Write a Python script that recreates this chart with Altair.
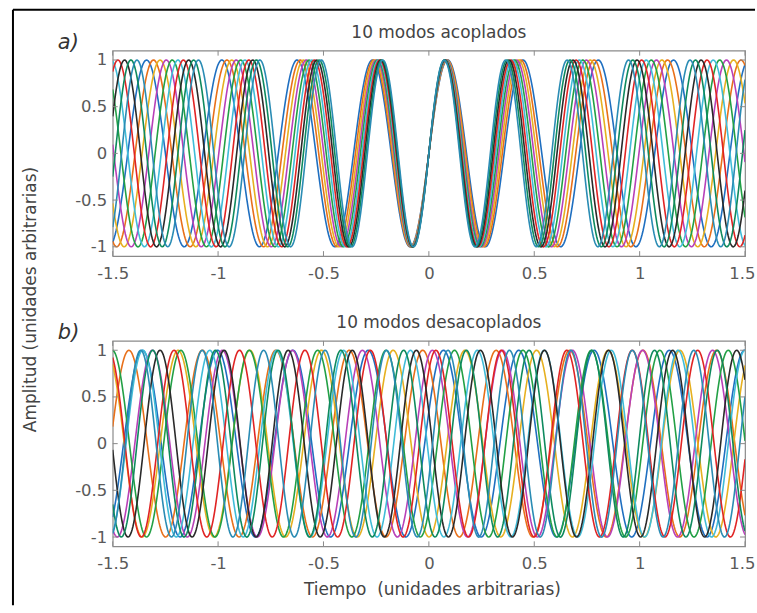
import altair as alt
import numpy as np
import pandas as pd

# ---- data -------------------------------------------------------------
modes = [1, 2, 3, 4, 5, 6, 7, 8, 9, 10]
# mode frequencies (cycles per time unit), read from the peak spacing
freqs = [2.80, 2.87, 2.94, 3.01, 3.08, 3.15, 3.22, 3.29, 3.36, 3.43]
# coupled modes: all phases equal (in phase at t = 0)
phases_a = [0.0, 0.0, 0.0, 0.0, 0.0, 0.0, 0.0, 0.0, 0.0, 0.0]
# uncoupled modes: arbitrary phases (radians)
phases_b = [0.35, 2.10, 4.70, 1.25, 5.50, 3.30, 0.90, 2.80, 4.10, 5.90]
colors = ["#1f6fc0", "#e8701a", "#e6b020", "#b840b8", "#22a045",
          "#40bcd8", "#e02424", "#2a2a2a", "#0e8a5e", "#2a8cb4"]
x_ticks = [-1.5, -1, -0.5, 0, 0.5, 1, 1.5]
y_ticks = [-1, -0.5, 0, 0.5, 1]
t_samples = np.linspace(-1.5, 1.5, 751)

titles = ["10 modos acoplados", "10 modos desacoplados"]
letters = ["a)", "b)"]
x_title = "Tiempo\u00a0\u00a0(unidades arbitrarias)"
y_title = "Amplitud (unidades arbitrarias)"


def build(phases):
    rows = []
    for m, f, p in zip(modes, freqs, phases):
        amp = np.sin(2 * np.pi * f * t_samples + p)
        rows.append(pd.DataFrame({"t": t_samples, "amp": amp, "mode": m}))
    return pd.concat(rows, ignore_index=True)


df_a = build(phases_a)
df_b = build(phases_b)

# ---- style ------------------------------------------------------------
FONT = "DejaVu Sans"
W, H = 634, 206
GRAY = "#8a8a8a"
LBL = "#5a5a5a"
TFS = 17   # title font size
LFS = 16.5 # tick label font size

x_scale = alt.Scale(domain=[-1.5, 1.5], nice=False, zero=False)
y_scale = alt.Scale(domain=[-1.1, 1.1], nice=False, zero=False)


def panel(df, title, letter, first):
    x_axis = alt.Axis(
        values=x_ticks, labelExpr="datum.value + ''", ticks=False, domain=False,
        grid=False, labelPadding=9, labelFontSize=LFS, labelFont=FONT,
        labelColor=LBL, labelFlush=False,
        labelAlign={"condition": {"test": "datum.value >= 1.5", "value": "right"}, "value": "center"},
        labelOffset={"condition": {"test": "datum.value >= 1.5", "value": 10}, "value": 0},
        title=None if first else x_title,
        titleFont=FONT, titleFontSize=TFS, titleFontWeight="normal", titleColor="#444",
        titleBaseline="top", titleY=35, titleX=W / 2 + 3,
    )
    y_axis = alt.Axis(
        values=y_ticks, labelExpr="datum.value + ''", ticks=False, domain=False,
        grid=False, labelPadding=6, labelFontSize=LFS, labelFont=FONT,
        labelColor=LBL,
        title=None if first else y_title,
        titleFont=FONT, titleFontSize=TFS, titleFontWeight="normal", titleColor="#444",
        titleAngle=-90, titleBaseline="middle", titleAlign="center",
        titleX=-82, titleY=-42,
    )

    lines = alt.Chart(df).mark_line(strokeWidth=1.6, clip=True).encode(
        x=alt.X("t:Q", scale=x_scale, axis=x_axis),
        y=alt.Y("amp:Q", scale=y_scale, axis=y_axis),
        color=alt.Color("mode:N", scale=alt.Scale(domain=modes, range=colors), legend=None),
    )

    xt = pd.DataFrame({"t": x_ticks})
    yt = pd.DataFrame({"amp": y_ticks})
    tick_x_bot = alt.Chart(xt).mark_rule(color=GRAY, strokeWidth=1).encode(
        x=alt.X("t:Q", scale=x_scale, axis=x_axis), y=alt.value(H), y2=alt.value(H - 5))
    tick_x_top = alt.Chart(xt).mark_rule(color=GRAY, strokeWidth=1).encode(
        x=alt.X("t:Q", scale=x_scale, axis=x_axis), y=alt.value(0), y2=alt.value(5))
    tick_y_left = alt.Chart(yt).mark_rule(color=GRAY, strokeWidth=1).encode(
        y=alt.Y("amp:Q", scale=y_scale, axis=y_axis), x=alt.value(0), x2=alt.value(5))
    tick_y_right = alt.Chart(yt).mark_rule(color=GRAY, strokeWidth=1).encode(
        y=alt.Y("amp:Q", scale=y_scale, axis=y_axis), x=alt.value(W), x2=alt.value(W - 5))

    lab = alt.Chart(pd.DataFrame({"s": [letter]})).mark_text(
        font=FONT, fontSize=21, fontStyle="italic", color="#333", align="left",
        baseline="alphabetic").encode(text="s:N", x=alt.value(-55), y=alt.value(-2))
    ttl = alt.Chart(pd.DataFrame({"s": [title]})).mark_text(
        font=FONT, fontSize=TFS, color="#444", align="center",
        baseline="alphabetic").encode(text="s:N", x=alt.value(W / 2 + 10), y=alt.value(-13))

    layers = [lines, tick_x_bot, tick_x_top, tick_y_left, tick_y_right, lab, ttl]

    one = pd.DataFrame({"k": [0]})
    if first:
        frame_left = alt.Chart(one).mark_rule(color="black", strokeWidth=2).encode(
            x=alt.value(-100), x2=alt.value(-100), y=alt.value(-41), y2=alt.value(556))
        layers += [frame_left]
    else:
        # top border of the figure, drawn from the lower panel (plot top is 291 px below it)
        frame_top = alt.Chart(one).mark_rule(color="black", strokeWidth=2).encode(
            x=alt.value(-100), x2=alt.value(644), y=alt.value(-332), y2=alt.value(-332))
        layers += [frame_top]

    return alt.layer(*layers).properties(width=W, height=H)


chart = alt.vconcat(
    panel(df_a, titles[0], letters[0], True),
    panel(df_b, titles[1], letters[1], False),
    spacing=85, bounds="flush",
).properties(
    padding={"left": 11, "top": 7, "right": 0, "bottom": 0},
    background="white",
).configure_view(stroke=GRAY, strokeWidth=1.2)

chart.save("out.html", embed_options={"renderer": "svg", "actions": False})
